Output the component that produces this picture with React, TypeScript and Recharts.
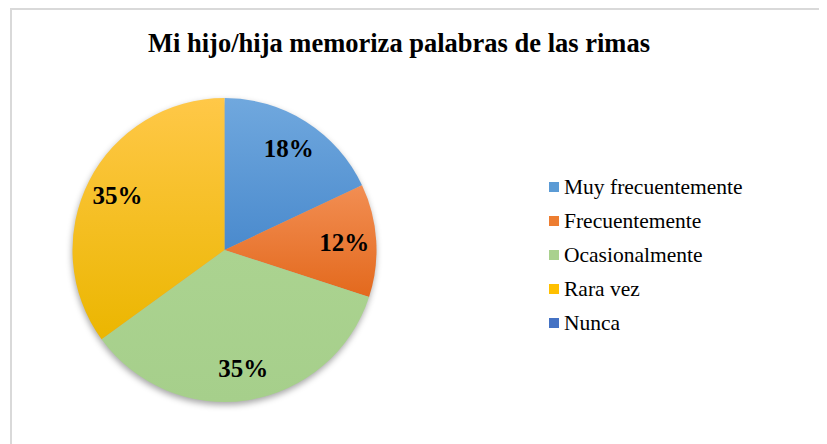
import React from 'react';
import { PieChart, Pie, Cell } from 'recharts';

const categories = ['Muy frecuentemente', 'Frecuentemente', 'Ocasionalmente', 'Rara vez', 'Nunca'];
const percentages = [18, 12, 35, 35, 0];
const colors = ['#5B9BD5', '#ED7D31', '#A9D18E', '#FFC000', '#4472C4'];
const gradientStops = [
  ['#70A8DE', '#4A8ACD'],
  ['#F28E53', '#E3691D'],
  ['#ABD390', '#A6CF8B'],
  ['#FFC848', '#EBB600'],
  ['#4F7ECF', '#3A66B8'],
];

const title = 'Mi hijo/hija memoriza palabras de las rimas';

const data = categories.map((name, i) => ({ name, value: percentages[i] }));

const serif = '"Liberation Serif", "Times New Roman", serif';
const RADIAN = Math.PI / 180;

const renderLabel = (props: any) => {
  const { cx, cy, midAngle, outerRadius, value } = props;
  if (!value) return null;
  const r = outerRadius * 0.79;
  const x = cx + r * Math.cos(-midAngle * RADIAN);
  const y = cy + r * Math.sin(-midAngle * RADIAN);
  return (
    <text x={x} y={y} textAnchor="middle" dominantBaseline="central"
      fontFamily={serif} fontWeight="bold" fontSize={25} fill="#000">
      {value}%
    </text>
  );
};

export default function App() {
  return (
    <div style={{ position: 'relative', width: 819, height: 436, overflow: 'hidden', background: '#fff' }}>
      <div style={{ position: 'absolute', left: 2, top: 0, width: 840, height: 460, border: '2px solid #d9d9d9', boxSizing: 'border-box' }} />
      <div style={{ position: 'absolute', left: 0, top: 20, width: 782, textAlign: 'center', fontFamily: serif, fontWeight: 'bold', fontSize: 26.5, color: '#000' }}>
        {title}
      </div>
      <div style={{ position: 'absolute', left: 0, top: 0 }}>
        <PieChart width={530} height={436} margin={{ top: 0, right: 0, bottom: 0, left: 0 }}>
          <defs>
            <filter id="pieShadow" x="-20%" y="-20%" width="140%" height="140%">
              <feGaussianBlur stdDeviation="3" />
            </filter>
            {gradientStops.map((g, i) => (
              <linearGradient key={i} id={`grad${i}`} x1="0" y1="0" x2="0" y2="1">
                <stop offset="0%" stopColor={g[0]} />
                <stop offset="100%" stopColor={g[1]} />
              </linearGradient>
            ))}
          </defs>
          <Pie data={data} dataKey="value" cx={216} cy={245} outerRadius={152}
            startAngle={90} endAngle={-270} stroke="none" isAnimationActive={false}>
            {data.map((d, i) => (
              <Cell key={i} fill="rgba(0,0,0,0.35)" filter="url(#pieShadow)" />
            ))}
          </Pie>
          <Pie data={data} dataKey="value" cx={216.5} cy={242} outerRadius={152}
            startAngle={90} endAngle={-270} stroke="none" label={renderLabel} labelLine={false}
            isAnimationActive={false}>
            {data.map((d, i) => (
              <Cell key={i} fill={`url(#grad${i})`} />
            ))}
          </Pie>
        </PieChart>
      </div>
      <div style={{ position: 'absolute', left: 541, top: 162, fontFamily: serif, fontSize: 21.5, color: '#000' }}>
        {categories.map((c, i) => (
          <div key={c} style={{ display: 'flex', alignItems: 'center', height: 34 }}>
            <span style={{ display: 'inline-block', width: 10, height: 10, background: colors[i], marginRight: 5 }} />
            <span>{c}</span>
          </div>
        ))}
      </div>
    </div>
  );
}
